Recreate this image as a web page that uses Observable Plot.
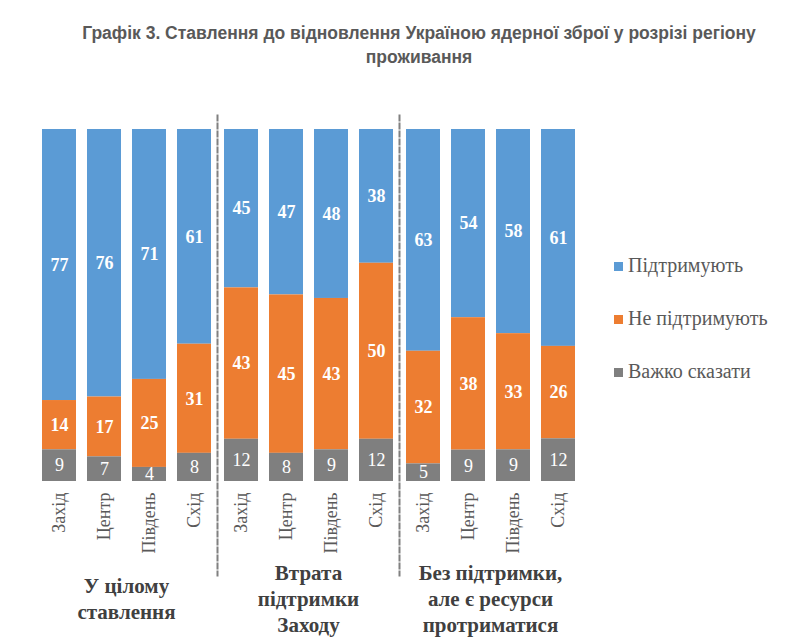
<!DOCTYPE html>
<html>
<head>
<meta charset="utf-8">
<script src="https://cdn.jsdelivr.net/npm/d3@7"></script>
<script src="https://cdn.jsdelivr.net/npm/@observablehq/plot@0.6"></script>
<style>
  html, body { margin: 0; padding: 0; background: #fff; }
  #page { position: relative; width: 810px; height: 644px; overflow: hidden; }
  #title { box-sizing: border-box; height: 80px; padding: 21px 0 0 28px; width: 810px;
    text-align: center; font-family: "Liberation Sans", Arial, sans-serif;
    font-weight: bold; font-size: 17.5px; line-height: 24px; color: #595959; }
  #legend { position: absolute; left: 614px; top: 252px; font-family: "Liberation Serif", "Times New Roman", serif;
    font-size: 20px; color: #595959; }
  #legend .item { height: 26px; line-height: 26px; margin-bottom: 27px; white-space: nowrap; }
  #legend .sw { display: inline-block; width: 9px; height: 9px; margin-right: 5px; vertical-align: 1px; }
</style>
</head>
<body>
<div id="page">
  <div id="title">Графік 3. Ставлення до відновлення Україною ядерної зброї у розрізі регіону<br>проживання</div>
  <div id="chart"></div>
  <div id="legend"></div>
</div>
<script>
const groups = ["У цілому ставлення", "Втрата підтримки Заходу", "Без підтримки, але є ресурси протриматися"];
const groupLabels = ["У цілому\nставлення", "Втрата\nпідтримки\nЗаходу", "Без підтримки,\nале є ресурси\nпротриматися"];
const regions = ["Захід", "Центр", "Південь", "Схід"];
const series = ["Підтримують", "Не підтримують", "Важко сказати"];
const colors = ["#5B9BD5", "#ED7D31", "#7F7F7F"];
const support = [77, 76, 71, 61, 45, 47, 48, 38, 63, 54, 58, 61];
const oppose  = [14, 17, 25, 31, 43, 45, 43, 50, 32, 38, 33, 26];
const hard    = [9, 7, 4, 8, 12, 8, 9, 12, 5, 9, 9, 12];

const bars = groups.flatMap(g => regions.map(r => ({group: g, region: r})));
const seriesValues = [support, oppose, hard];
const rows = [];
bars.forEach((b, i) => {
  series.forEach((s, k) => rows.push({group: b.group, region: b.region, series: s, value: seriesValues[k][i]}));
});
const stackOrder = series.slice().reverse();
const stackOpts = {offset: "normalize", order: stackOrder, x: "region", fx: "group", y: "value", z: "series"};
const serif = "'Liberation Serif', 'Times New Roman', serif";

const chart = Plot.plot({
  width: 810,
  height: 564,
  marginLeft: 34,
  marginRight: 229,
  marginTop: 35,
  marginBottom: 69,
  style: {background: "transparent"},
  fx: {domain: groups, padding: 0, axis: null},
  x: {domain: regions, paddingInner: 0.255, paddingOuter: 0.1275, axis: null},
  y: {domain: [0, 1], range: [401, 49], axis: null},
  color: {domain: series, range: colors},
  marks: [
    Plot.barY(rows, Plot.stackY({...stackOpts, fill: "series"})),
    Plot.text(rows, Plot.filter(d => d.series !== "Важко сказати", Plot.stackY({...stackOpts, text: "value",
      fill: "white", fontFamily: serif, fontSize: 18, fontWeight: "bold"}))),
    Plot.text(rows, Plot.filter(d => d.series === "Важко сказати", Plot.stackY({...stackOpts, text: "value",
      fill: "white", fontFamily: serif, fontSize: 18}))),
    Plot.text(bars, {fx: "group", x: "region", y: () => 0, text: "region", rotate: -90,
      textAnchor: "end", lineAnchor: "middle", dy: 11, fontFamily: serif, fontSize: 18, fill: "#595959"}),
    Plot.text(groups, {fx: d => d, frameAnchor: "bottom", text: (d, i) => groupLabels[i],
      lineAnchor: "middle", lineHeight: 1.24, dy: 22, fontFamily: serif, fontSize: 21, fontWeight: "bold", fill: "#404040"}),
    Plot.frame({anchor: "left", fx: () => groups[1], stroke: "#808080", strokeWidth: 2, strokeDasharray: "5,3", strokeOpacity: 1}),
    Plot.frame({anchor: "left", fx: () => groups[2], stroke: "#808080", strokeWidth: 2, strokeDasharray: "5,3", strokeOpacity: 1})
  ]
});
document.getElementById("chart").appendChild(chart);

const legend = document.getElementById("legend");
series.forEach((s, i) => {
  const item = document.createElement("div");
  item.className = "item";
  const sw = document.createElement("span");
  sw.className = "sw";
  sw.style.background = colors[i];
  item.appendChild(sw);
  item.appendChild(document.createTextNode(s));
  legend.appendChild(item);
});
</script>
</body>
</html>
